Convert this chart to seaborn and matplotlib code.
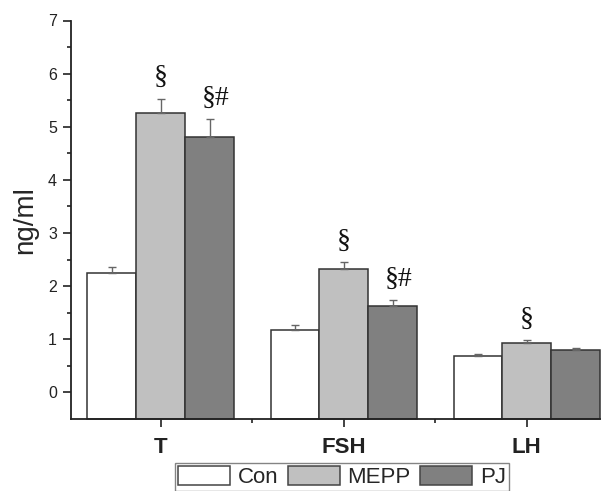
import matplotlib
matplotlib.use("Agg")
import matplotlib.pyplot as plt
import seaborn as sns
import pandas as pd
import numpy as np
from matplotlib.ticker import FixedLocator
from matplotlib.container import BarContainer

categories = ["T", "FSH", "LH"]
groups = ["Con", "MEPP", "PJ"]
con_vals = [2.25, 1.17, 0.69]
mepp_vals = [5.26, 2.32, 0.93]
pj_vals = [4.80, 1.62, 0.79]
con_err = [0.12, 0.10, 0.03]
mepp_err = [0.27, 0.14, 0.05]
pj_err = [0.35, 0.12, 0.05]
marks_mepp = ["§", "§", "§"]
marks_pj = ["§#", "§#", ""]

colors = ["#ffffff", "#c0c0c0", "#808080"]
y_base = -0.5

rows = []
for g, vals in zip(groups, [con_vals, mepp_vals, pj_vals]):
    for c, v in zip(categories, vals):
        rows.append({"cat": c, "group": g, "val": v})
df = pd.DataFrame(rows)

sns.set_style("ticks")
plt.rcParams["font.family"] = ["Liberation Sans", "DejaVu Sans"]

fig = plt.figure(figsize=(6.05, 4.91), dpi=100)
ax = fig.add_axes([71/605, (491-419)/491, (600-71)/605, (419-20.5)/491])

sns.barplot(data=df, x="cat", y="val", hue="group", order=categories,
            hue_order=groups, palette=colors, errorbar=None, width=0.8,
            edgecolor="#333333", linewidth=1.1, ax=ax, legend=True)

errs = [con_err, mepp_err, pj_err]
bar_conts = [c for c in ax.containers if isinstance(c, BarContainer)]
for gi, cont in enumerate(bar_conts):
    for ci, bar in enumerate(cont.patches):
        x = bar.get_x() + bar.get_width() / 2
        h = bar.get_height()
        # Origin-style: bars rise from the bottom of the axis
        bar.set_y(y_base)
        bar.set_height(h - y_base)
        bar.set_clip_on(False)
        ax.errorbar([x], [h], yerr=[[0], [errs[gi][ci]]], fmt="none",
                    ecolor="#666666", elinewidth=1.0, capsize=3, capthick=1.0, zorder=1)
        mark = ""
        if gi == 1:
            mark = marks_mepp[ci]
        elif gi == 2:
            mark = marks_pj[ci]
        if mark:
            ax.text(x + (0.035 if len(mark) > 1 else 0), h + errs[gi][ci] + 0.27, mark,
                    ha="center", va="baseline", fontsize=20,
                    family=["Liberation Serif", "DejaVu Serif"], color="#111111")

ax.set_ylim(y_base, 7)
ax.set_xlim(-0.49, 2.4)
ax.yaxis.set_major_locator(FixedLocator(range(0, 8)))
ax.yaxis.set_minor_locator(FixedLocator(np.arange(0.5, 7.0, 1.0)))
ax.xaxis.set_minor_locator(FixedLocator([0.5, 1.5]))
ax.tick_params(axis="both", which="major", length=6, width=1.2, direction="out", colors="#222222")
ax.tick_params(axis="both", which="minor", length=3, width=1.2, direction="out", colors="#222222")
ax.tick_params(axis="y", labelsize=11.5, pad=4)
ax.tick_params(axis="x", labelsize=16, pad=7)
for lbl in ax.get_xticklabels():
    lbl.set_fontweight("bold")
ax.set_xlabel("")
ax.set_ylabel("ng/ml", fontsize=20, labelpad=7)
for s in ["top", "right"]:
    ax.spines[s].set_visible(False)
for s in ["left", "bottom"]:
    ax.spines[s].set_linewidth(1.3)
    ax.spines[s].set_color("#222222")

handles, labels = ax.get_legend_handles_labels()
ax.legend_.remove()
leg = fig.legend(handles, labels, loc="upper center", bbox_to_anchor=(0.565, 0.058),
                 ncol=3, fontsize=16, frameon=True, fancybox=False, edgecolor="#666666",
                 handlelength=2.35, handleheight=0.95, borderpad=0.15, columnspacing=0.4,
                 handletextpad=0.35, borderaxespad=0)
leg.get_frame().set_linewidth(1.0)
for hnd in leg.legend_handles:
    hnd.set_edgecolor("#444444")

fig.savefig("out.png", dpi=100)
